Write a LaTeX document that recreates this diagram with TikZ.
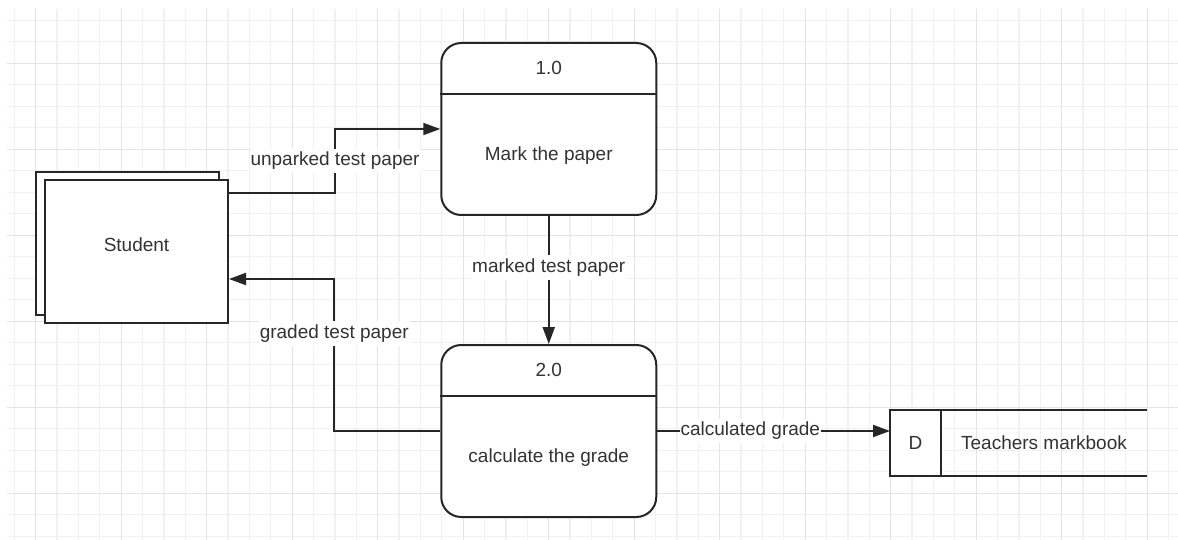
\documentclass[tikz,border=0pt]{standalone}
\usepackage{fontspec}
\setmainfont{Liberation Sans}
\usetikzlibrary{positioning}
\usetikzlibrary{calc}
\usetikzlibrary{arrows.meta}

\definecolor{gridminor}{HTML}{F1F1F1}
\definecolor{gridmajor}{HTML}{E4E4E4}
\definecolor{inkline}{HTML}{262626}
\definecolor{inktext}{HTML}{333333}

\begin{document}
\begin{tikzpicture}[x=1pt,y=-1pt,>={Triangle[length=17pt,width=12pt]}]
	\tikzset{caption/.style = {text=inktext, font=\fontsize{19}{23}\selectfont}}
	\tikzset{entity/.style = {shape=rectangle, draw=inkline, line width=2pt, fill=white, minimum width=183pt, minimum height=143pt, caption}}
	\tikzset{process/.style = {shape=rectangle, rounded corners=20pt, draw=inkline, line width=2pt, fill=white, minimum width=215pt, minimum height=172pt}}
	\tikzset{processno/.style = {caption, below=0pt of #1, minimum height=52pt, inner sep=0pt}}
	\tikzset{storeid/.style = {shape=rectangle, draw=inkline, line width=2pt, fill=white, minimum width=51pt, minimum height=66pt, outer sep=0pt, caption}}
	\tikzset{edge/.style = {draw=inkline, line width=2pt}}
	\tikzset{flow/.style = {->, edge}}
	\tikzset{flowlabel/.style = {caption, fill=white, inner xsep=1pt, inner ysep=3.5pt}}

	% squared paper
	\useasboundingbox (0,0) rectangle (1178,540);
	\fill[white] (0,0) rectangle (1178,540);
	\foreach \i in {0,...,54}
		\draw[gridminor, line width=1.2pt] (14.3+21.375*\i,9) -- (14.3+21.375*\i,540);
	\foreach \j in {0,...,24}
		\draw[gridminor, line width=1.2pt] (7,20.2+21.5*\j) -- (1178,20.2+21.5*\j);
	\foreach \i in {0,...,13}
		\draw[gridmajor, line width=1.2pt] (35.7+85.5*\i,9) -- (35.7+85.5*\i,540);
	\foreach \j in {0,...,5}
		\draw[gridmajor, line width=1.2pt] (7,63.2+86*\j) -- (1178,63.2+86*\j);

	% external entity
	\node[entity] (studentback) at (127,243.5) {};
	\node[entity, text depth=14pt] (student) at (136.5,251.5) {Student};

	% processes
	\node[process] (mark) at (548.75,129) {};
	\node[processno=mark.north] (markno) {1.0};
	\draw[edge] (markno.south -| mark.west) -- (markno.south -| mark.east);
	\node[caption] (marktext) at ($(markno.south)!0.5!(mark.south)$) {Mark the paper};

	\node[process] (grade) at (548.75,431) {};
	\node[processno=grade.north] (gradeno) {2.0};
	\draw[edge] (gradeno.south -| grade.west) -- (gradeno.south -| grade.east);
	\node[caption] (gradetext) at ($(gradeno.south)!0.5!(grade.south)$) {calculate the grade};

	% data store
	\node[storeid] (markbookid) at (915.5,443) {D};
	\draw[edge] (markbookid.north east) -- ++(206,0);
	\draw[edge] (markbookid.south east) -- ++(206,0);
	\node[caption] (markbookname) at ($(markbookid.east)+(103,0)$) {Teachers markbook};

	% data flows
	\draw[flow] ([yshift=-14pt]student.north east) -- ++(106,0) |- (mark.west) node[flowlabel, pos=0.25] {unparked test paper};
	\draw[flow] (mark.south) -- (grade.north) node[flowlabel, pos=0.4] {marked test paper};
	\draw[flow] (grade.west) -- ++(-106,0) |- ([yshift=45pt]student.south east) node[flowlabel, pos=0.32] {graded test paper};
	\draw[flow] (grade.east) -- (grade.east -| markbookid.west) node[flowlabel, pos=0.4] {calculated grade};
\end{tikzpicture}
\end{document}
